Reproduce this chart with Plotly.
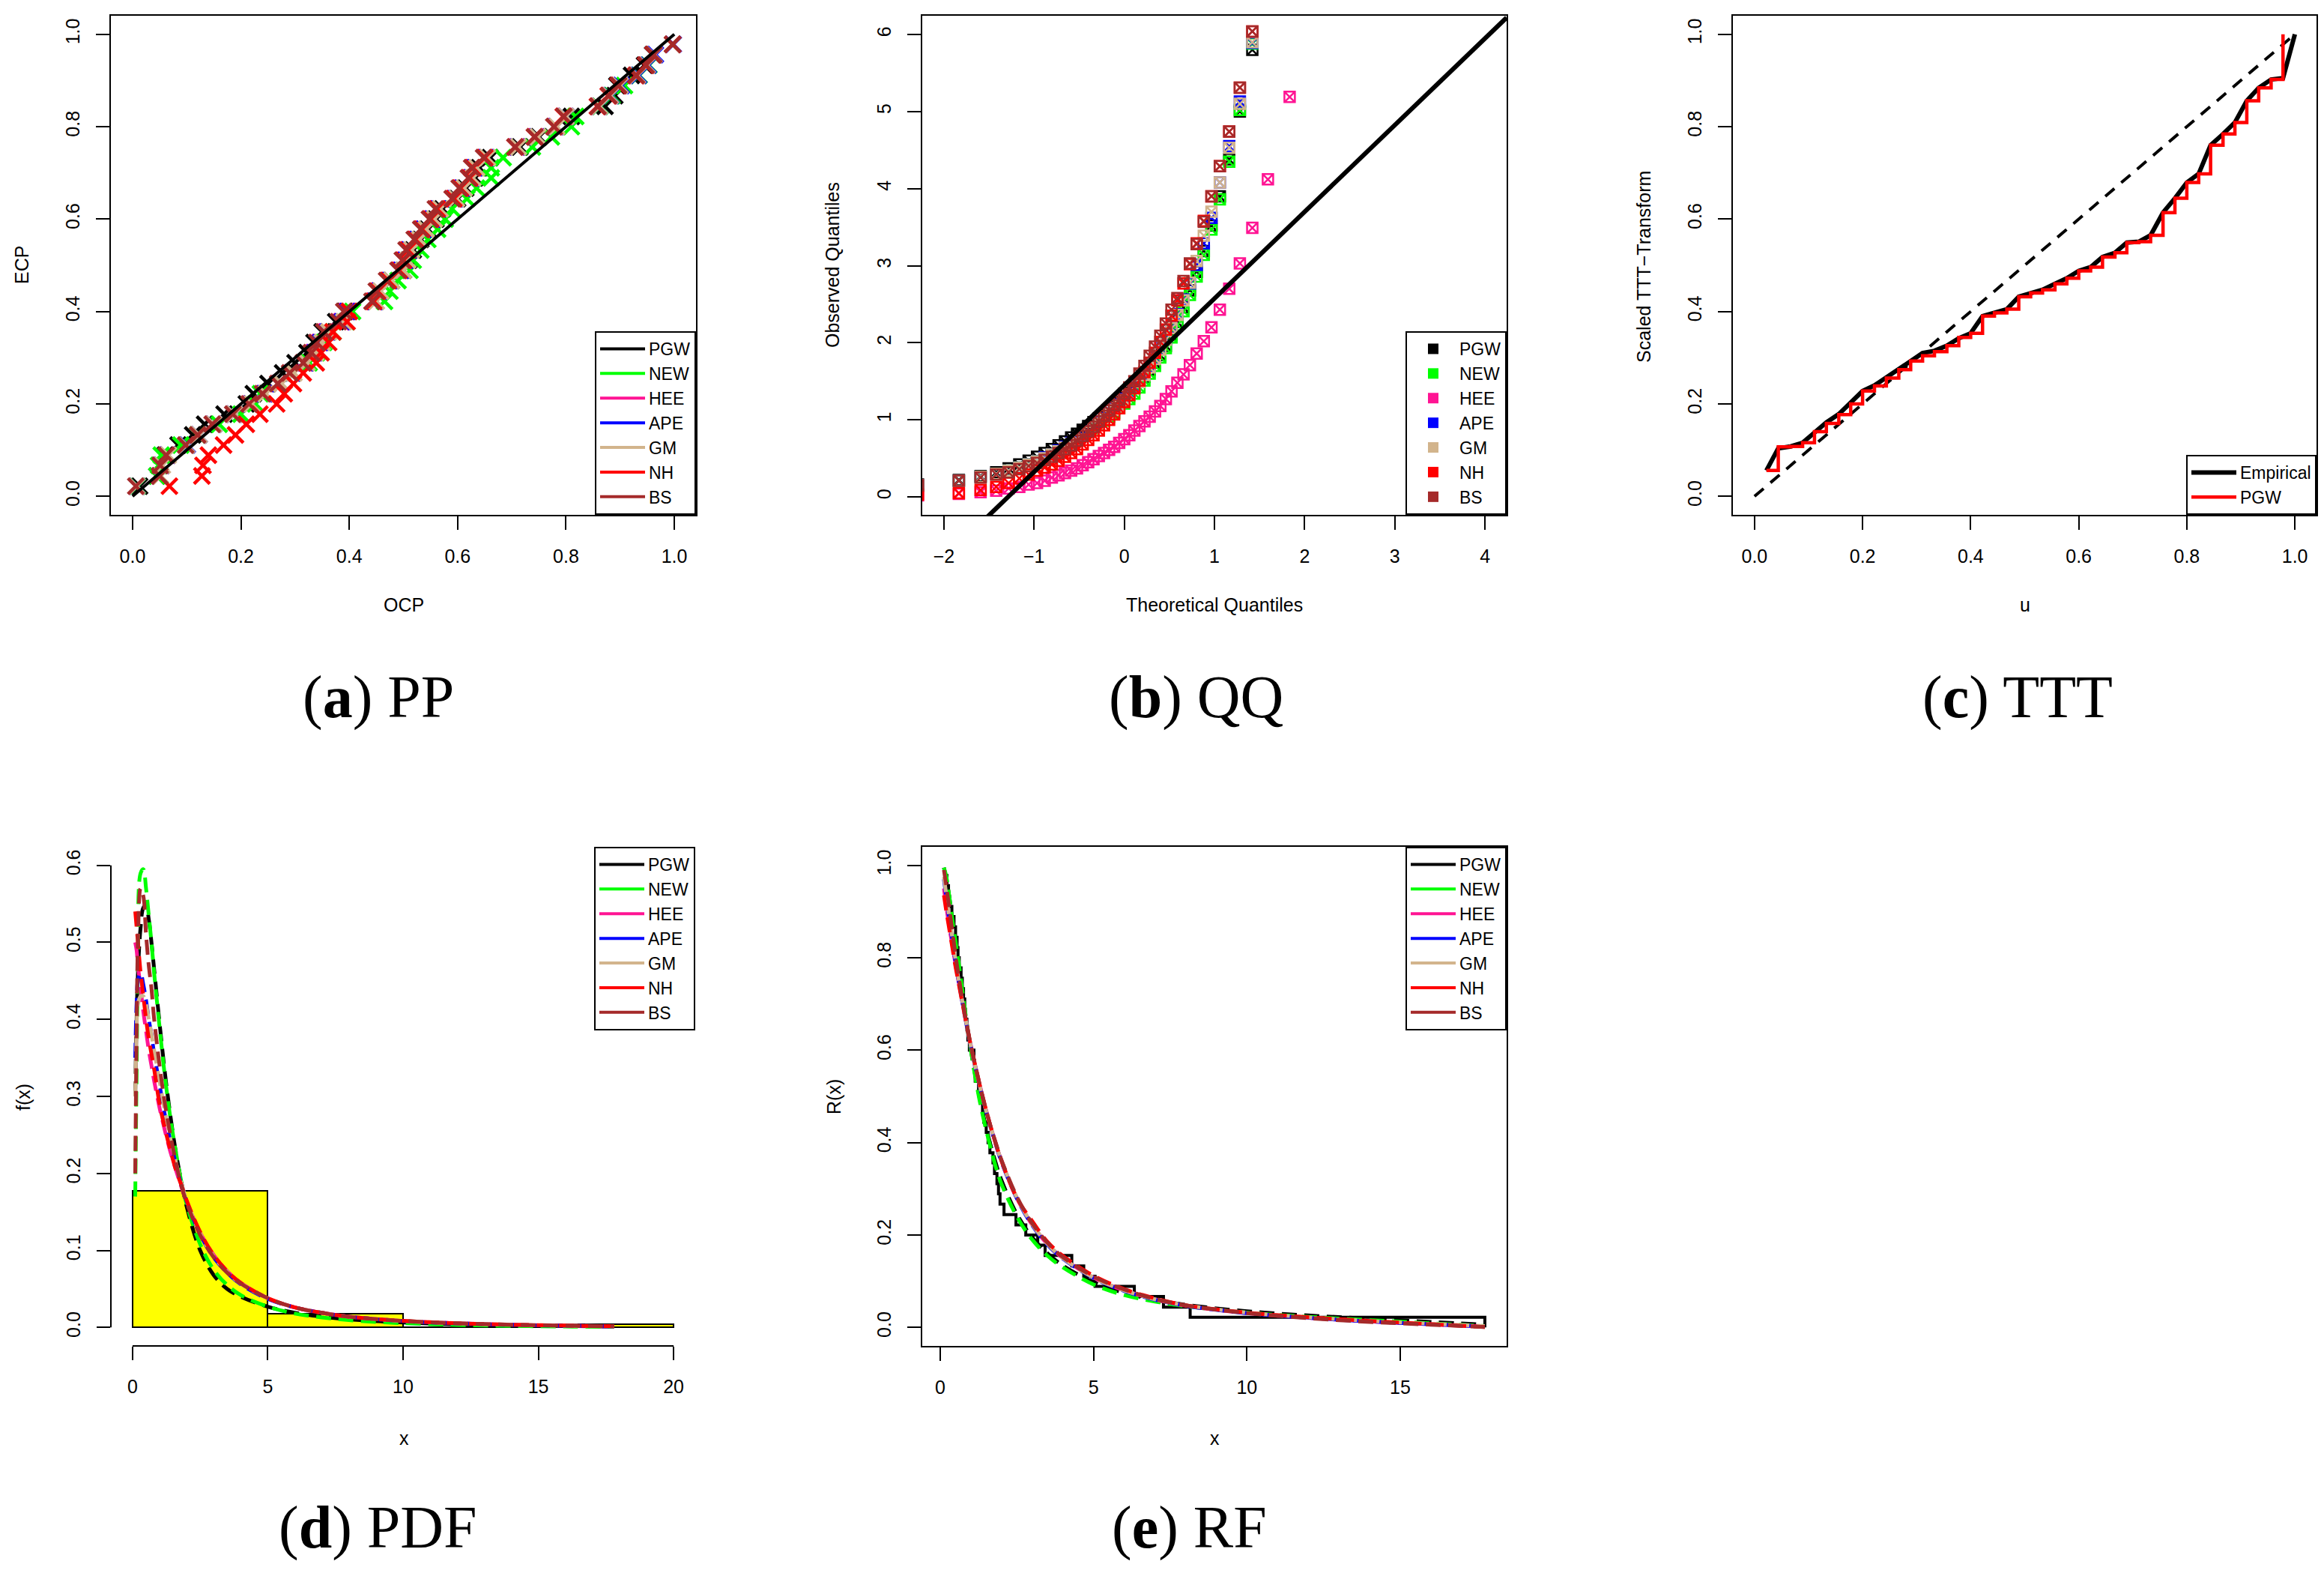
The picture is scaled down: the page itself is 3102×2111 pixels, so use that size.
# -*- coding: utf-8 -*-
"""
Goodness-of-fit panels (PP, QQ, TTT, PDF, RF) for seven fitted models
"""
import plotly.graph_objects as go

W, H = 3102, 2111

models = ["PGW", "NEW", "HEE", "APE", "GM", "NH", "BS"]
colors = ["#000000", "#00FF00", "#FF1493", "#0000FF", "#D2B48C", "#FF0000", "#A52A2A"]

# (a) PP: empirical cumulative probabilities and each model's fitted CDF
pp_ecp = [0.022, 0.044, 0.067, 0.089, 0.111, 0.133, 0.156, 0.178, 0.2, 0.222, 0.244, 0.267, 0.289, 0.311,
          0.333, 0.356, 0.378, 0.4, 0.422, 0.444, 0.467, 0.489, 0.511, 0.533, 0.556, 0.578, 0.6, 0.622,
          0.644, 0.667, 0.689, 0.711, 0.733, 0.756, 0.778, 0.8, 0.822, 0.844, 0.867, 0.889, 0.911, 0.933,
          0.956, 0.978]
pp_pgw = [0.013, 0.045, 0.05, 0.06, 0.084, 0.111, 0.133, 0.169, 0.21, 0.223, 0.25, 0.277, 0.3, 0.322,
          0.335, 0.35, 0.375, 0.392, 0.448, 0.456, 0.478, 0.5, 0.51, 0.518, 0.532, 0.545, 0.56, 0.572,
          0.6, 0.615, 0.632, 0.64, 0.66, 0.715, 0.75, 0.778, 0.81, 0.872, 0.89, 0.894, 0.921, 0.945,
          0.96, 0.997]
pp_new = [0.009, 0.045, 0.048, 0.053, 0.089, 0.12, 0.16, 0.2, 0.227, 0.236, 0.272, 0.295, 0.326, 0.34,
          0.353, 0.37, 0.395, 0.406, 0.465, 0.475, 0.49, 0.512, 0.518, 0.532, 0.545, 0.563, 0.577, 0.59,
          0.617, 0.635, 0.662, 0.662, 0.684, 0.738, 0.773, 0.81, 0.818, 0.863, 0.885, 0.908, 0.935, 0.953,
          0.962, 0.997]
pp_hee = [0.007, 0.05, 0.053, 0.064, 0.1, 0.122, 0.149, 0.187, 0.218, 0.243, 0.271, 0.294, 0.318, 0.334,
          0.345, 0.357, 0.385, 0.395, 0.446, 0.454, 0.473, 0.494, 0.502, 0.509, 0.524, 0.536, 0.552, 0.563,
          0.594, 0.607, 0.624, 0.63, 0.651, 0.709, 0.745, 0.78, 0.798, 0.86, 0.88, 0.898, 0.931, 0.949,
          0.962, 0.997]
pp_ape = [0.008, 0.051, 0.054, 0.065, 0.101, 0.123, 0.15, 0.188, 0.219, 0.244, 0.272, 0.296, 0.32, 0.336,
          0.347, 0.36, 0.387, 0.397, 0.448, 0.456, 0.475, 0.496, 0.504, 0.511, 0.526, 0.538, 0.554, 0.565,
          0.596, 0.609, 0.626, 0.632, 0.653, 0.711, 0.747, 0.782, 0.8, 0.862, 0.883, 0.902, 0.934, 0.952,
          0.965, 0.998]
pp_gm = [0.008, 0.052, 0.055, 0.066, 0.1, 0.123, 0.15, 0.188, 0.22, 0.246, 0.275, 0.298, 0.322, 0.338,
         0.35, 0.362, 0.39, 0.4, 0.45, 0.458, 0.478, 0.5, 0.508, 0.515, 0.53, 0.542, 0.557, 0.568,
         0.598, 0.612, 0.628, 0.635, 0.655, 0.712, 0.748, 0.783, 0.8, 0.862, 0.882, 0.9, 0.932, 0.95,
         0.963, 0.997]
pp_nh = [0.068, 0.128, 0.13, 0.14, 0.168, 0.19, 0.21, 0.235, 0.266, 0.28, 0.297, 0.315, 0.339, 0.348,
         0.362, 0.37, 0.396, 0.4, 0.445, 0.452, 0.472, 0.492, 0.5, 0.508, 0.522, 0.534, 0.55, 0.562,
         0.593, 0.605, 0.622, 0.628, 0.65, 0.706, 0.742, 0.778, 0.795, 0.858, 0.878, 0.896, 0.929, 0.947,
         0.961, 0.997]
pp_bs = [0.006, 0.05, 0.051, 0.062, 0.098, 0.12, 0.147, 0.185, 0.215, 0.24, 0.268, 0.29, 0.315, 0.33,
         0.34, 0.353, 0.38, 0.39, 0.442, 0.45, 0.469, 0.49, 0.498, 0.505, 0.52, 0.532, 0.548, 0.559,
         0.59, 0.603, 0.62, 0.626, 0.648, 0.706, 0.742, 0.778, 0.796, 0.859, 0.879, 0.897, 0.93, 0.948,
         0.962, 0.997]
ref_line = [0, 1]

# (b) QQ: theoretical normal quantiles and observed quantiles per model
qq_theo = [-2.287, -1.834, -1.593, -1.420, -1.282, -1.164, -1.060, -0.967, -0.882, -0.803, -0.728,
           -0.657, -0.589, -0.524, -0.461, -0.400, -0.341, -0.282, -0.224, -0.168, -0.112, -0.056,
           0.0, 0.056, 0.112, 0.168, 0.224, 0.282, 0.341, 0.400, 0.461, 0.524, 0.589, 0.657, 0.728,
           0.803, 0.882, 0.967, 1.060, 1.164, 1.282, 1.420, 1.593, 1.834]
qq_pgw = [0.16, 0.22, 0.27, 0.32, 0.37, 0.42, 0.47, 0.52, 0.57, 0.62, 0.67, 0.72, 0.77, 0.82, 0.87, 0.92,
          0.97, 1.02, 1.07, 1.12, 1.18, 1.23, 1.29, 1.35, 1.42, 1.49, 1.56, 1.65, 1.74, 1.84, 1.96, 2.10,
          2.27, 2.46, 2.68, 2.92, 3.19, 3.52, 3.90, 4.38, 5.00, 5.80]
qq_new = [0.14, 0.21, 0.26, 0.30, 0.34, 0.38, 0.42, 0.46, 0.50, 0.55, 0.59, 0.64, 0.69, 0.74, 0.79, 0.84,
          0.89, 0.94, 0.99, 1.04, 1.09, 1.15, 1.21, 1.27, 1.34, 1.42, 1.51, 1.60, 1.70, 1.81, 1.93, 2.07,
          2.23, 2.41, 2.62, 2.86, 3.14, 3.47, 3.86, 4.35, 5.02, 5.88]
qq_hee = [0.02, 0.04, 0.06, 0.08, 0.11, 0.13, 0.16, 0.18, 0.21, 0.25, 0.28, 0.31, 0.34, 0.37, 0.41, 0.45,
          0.49, 0.53, 0.57, 0.61, 0.65, 0.70, 0.75, 0.80, 0.86, 0.92, 0.98, 1.04, 1.11, 1.18, 1.27, 1.37,
          1.48, 1.59, 1.71, 1.86, 2.02, 2.20, 2.43, 2.70, 3.03, 3.49, 4.12, 5.19]
qq_ape = [0.15, 0.21, 0.26, 0.30, 0.34, 0.38, 0.42, 0.46, 0.51, 0.55, 0.60, 0.65, 0.70, 0.75, 0.80, 0.85,
          0.90, 0.96, 1.02, 1.08, 1.14, 1.20, 1.27, 1.34, 1.42, 1.50, 1.59, 1.69, 1.80, 1.92, 2.05, 2.20,
          2.37, 2.56, 2.77, 3.01, 3.29, 3.62, 4.08, 4.55, 5.13, 5.89]
qq_gm = [0.15, 0.21, 0.26, 0.30, 0.34, 0.38, 0.42, 0.46, 0.50, 0.55, 0.59, 0.64, 0.69, 0.74, 0.79, 0.84,
         0.90, 0.95, 1.01, 1.07, 1.13, 1.19, 1.26, 1.33, 1.41, 1.49, 1.58, 1.68, 1.79, 1.91, 2.04, 2.19,
         2.36, 2.55, 2.78, 3.06, 3.39, 3.70, 4.08, 4.53, 5.10, 5.90]
qq_nh = [0.03, 0.05, 0.09, 0.13, 0.18, 0.24, 0.29, 0.34, 0.38, 0.42, 0.47, 0.52, 0.57, 0.62, 0.68, 0.74,
         0.80, 0.86, 0.93, 1.00, 1.07, 1.15, 1.23, 1.32, 1.41, 1.51, 1.62, 1.74, 1.87, 2.01, 2.17, 2.35,
         2.55, 2.77, 3.02, 3.29, 3.58, 3.90, 4.29, 4.74, 5.31, 6.04]
qq_bs = [0.15, 0.21, 0.25, 0.29, 0.32, 0.36, 0.40, 0.44, 0.48, 0.52, 0.57, 0.62, 0.67, 0.73, 0.79, 0.85,
         0.91, 0.98, 1.05, 1.12, 1.19, 1.26, 1.34, 1.42, 1.50, 1.60, 1.70, 1.83, 1.95, 2.09, 2.25, 2.43,
         2.58, 2.80, 3.03, 3.28, 3.57, 3.90, 4.29, 4.74, 5.31, 6.04]
qq_intercept = 1.449
qq_slope = 1.125

# (c) TTT
ttt_u = [0.022, 0.044, 0.067, 0.089, 0.111, 0.133, 0.156, 0.178, 0.2, 0.222, 0.244, 0.267, 0.289, 0.311,
         0.333, 0.356, 0.378, 0.4, 0.422, 0.444, 0.467, 0.489, 0.511, 0.533, 0.556, 0.578, 0.6, 0.622,
         0.644, 0.667, 0.689, 0.711, 0.733, 0.756, 0.778, 0.8, 0.822, 0.844, 0.867, 0.889, 0.911, 0.933,
         0.956, 0.978, 1.0]
ttt_emp = [0.056, 0.104, 0.108, 0.116, 0.138, 0.16, 0.178, 0.202, 0.228, 0.24, 0.257, 0.276, 0.293, 0.31,
           0.315, 0.326, 0.342, 0.353, 0.39, 0.397, 0.405, 0.432, 0.44, 0.447, 0.46, 0.472, 0.488, 0.496,
           0.518, 0.527, 0.549, 0.551, 0.565, 0.614, 0.645, 0.679, 0.698, 0.76, 0.784, 0.809, 0.856, 0.884,
           0.902, 0.905, 1.0]
ttt_pgw = [0.056, 0.107, 0.108, 0.116, 0.14, 0.158, 0.177, 0.2, 0.228, 0.239, 0.256, 0.274, 0.293, 0.304,
           0.313, 0.326, 0.344, 0.353, 0.39, 0.397, 0.405, 0.432, 0.44, 0.447, 0.46, 0.472, 0.488, 0.496,
           0.518, 0.527, 0.549, 0.551, 0.565, 0.614, 0.645, 0.679, 0.698, 0.76, 0.784, 0.809, 0.856, 0.884,
           0.902, 1.0]

# (d) PDF: histogram and fitted densities
hist_edges = [0, 5, 10, 15, 20]
hist_density = [0.1778, 0.0178, 0.0, 0.0044]
pdf_x = [0.1, 0.15, 0.2, 0.3, 0.4, 0.5, 0.6, 0.7, 0.8, 1.0, 1.2, 1.4, 1.6, 1.8, 2.0, 2.5, 3.0, 3.5, 4.0,
         5.0, 6.0, 7.0, 8.0, 10.0, 12.0, 14.0, 16.0, 17.8]
pdf_pgw = [0.3, 0.4, 0.46, 0.52, 0.545, 0.548, 0.53, 0.5, 0.465, 0.395, 0.33, 0.275, 0.228, 0.19, 0.157,
           0.1, 0.068, 0.05, 0.04, 0.027, 0.019, 0.014, 0.0105, 0.0065, 0.0042, 0.0027, 0.0018, 0.0012]
pdf_new = [0.17, 0.33, 0.47, 0.59, 0.595, 0.57, 0.535, 0.5, 0.46, 0.39, 0.325, 0.272, 0.228, 0.19, 0.16,
           0.108, 0.075, 0.055, 0.042, 0.027, 0.018, 0.013, 0.0095, 0.0055, 0.0033, 0.002, 0.0012, 0.0008]
pdf_hee = [0.5, 0.49, 0.47, 0.44, 0.41, 0.385, 0.36, 0.34, 0.32, 0.285, 0.255, 0.228, 0.205, 0.183, 0.163,
           0.123, 0.094, 0.073, 0.058, 0.038, 0.026, 0.019, 0.014, 0.0084, 0.0054, 0.0035, 0.0023, 0.0015]
pdf_ape = [0.35, 0.42, 0.45, 0.46, 0.445, 0.425, 0.4, 0.38, 0.355, 0.315, 0.275, 0.242, 0.212, 0.186, 0.164,
           0.121, 0.091, 0.071, 0.056, 0.037, 0.026, 0.019, 0.014, 0.0083, 0.0053, 0.0034, 0.0022, 0.0014]
pdf_gm = [0.3, 0.38, 0.42, 0.43, 0.43, 0.42, 0.4, 0.38, 0.36, 0.32, 0.28, 0.245, 0.215, 0.188, 0.165,
          0.122, 0.092, 0.072, 0.057, 0.038, 0.026, 0.019, 0.014, 0.0085, 0.0055, 0.0036, 0.0024, 0.0016]
pdf_nh = [0.54, 0.52, 0.5, 0.46, 0.43, 0.4, 0.375, 0.355, 0.335, 0.29, 0.258, 0.23, 0.205, 0.185, 0.165,
          0.124, 0.094, 0.073, 0.058, 0.038, 0.026, 0.019, 0.014, 0.0085, 0.0055, 0.0036, 0.0024, 0.0016]
pdf_bs = [0.2, 0.38, 0.5, 0.57, 0.56, 0.51, 0.47, 0.44, 0.4, 0.34, 0.29, 0.25, 0.215, 0.185, 0.162,
          0.12, 0.091, 0.071, 0.057, 0.038, 0.026, 0.019, 0.014, 0.0085, 0.0054, 0.0035, 0.0023, 0.0015]

# (e) RF: empirical survival and fitted reliability functions
rf_data = [0.19, 0.22, 0.27, 0.3, 0.38, 0.45, 0.5, 0.55, 0.58, 0.62, 0.68, 0.72, 0.76, 0.8, 0.82, 0.87,
           0.9, 0.95, 1.1, 1.12, 1.14, 1.25, 1.3, 1.38, 1.42, 1.5, 1.56, 1.62, 1.72, 1.77, 1.85, 1.9, 1.95,
           2.08, 2.47, 2.79, 3.18, 3.42, 4.29, 4.68, 5.05, 6.33, 7.28, 8.15, 17.76]
rf_surv = [0.978, 0.956, 0.933, 0.911, 0.889, 0.867, 0.844, 0.822, 0.8, 0.778, 0.756, 0.733, 0.711, 0.689,
           0.667, 0.644, 0.622, 0.6, 0.578, 0.556, 0.533, 0.511, 0.489, 0.467, 0.444, 0.422, 0.4, 0.378,
           0.356, 0.333, 0.311, 0.289, 0.267, 0.244, 0.222, 0.2, 0.178, 0.156, 0.133, 0.111, 0.089, 0.067,
           0.044, 0.022, 0.0]
rf_x = [0.12, 0.2, 0.3, 0.4, 0.5, 0.6, 0.8, 1.0, 1.2, 1.4, 1.6, 1.8, 2.0, 2.5, 3.0, 3.5, 4.0, 5.0, 6.0,
        7.0, 8.0, 10.0, 12.0, 14.0, 16.0, 17.76]
rf_pgw = [0.995, 0.97, 0.93, 0.875, 0.825, 0.78, 0.685, 0.6, 0.525, 0.46, 0.405, 0.358, 0.318, 0.245,
          0.195, 0.16, 0.134, 0.098, 0.075, 0.06, 0.049, 0.035, 0.026, 0.019, 0.012, 0.006]
rf_new = [0.995, 0.975, 0.93, 0.88, 0.835, 0.79, 0.69, 0.6, 0.52, 0.455, 0.4, 0.35, 0.31, 0.24, 0.19,
          0.155, 0.13, 0.093, 0.07, 0.056, 0.046, 0.032, 0.023, 0.016, 0.009, 0.003]
rf_hee = [0.95, 0.91, 0.865, 0.825, 0.785, 0.748, 0.677, 0.61, 0.55, 0.495, 0.445, 0.4, 0.36, 0.28, 0.222,
          0.18, 0.15, 0.108, 0.08, 0.061, 0.047, 0.031, 0.021, 0.013, 0.007, 0.002]
rf_ape = [0.97, 0.93, 0.88, 0.835, 0.79, 0.75, 0.675, 0.607, 0.547, 0.492, 0.443, 0.398, 0.358, 0.279,
          0.221, 0.179, 0.149, 0.107, 0.079, 0.06, 0.047, 0.031, 0.021, 0.013, 0.007, 0.002]
rf_gm = [0.975, 0.935, 0.885, 0.84, 0.795, 0.752, 0.677, 0.608, 0.548, 0.493, 0.444, 0.4, 0.36, 0.281,
         0.223, 0.181, 0.15, 0.108, 0.08, 0.061, 0.048, 0.032, 0.022, 0.014, 0.008, 0.003]
rf_nh = [0.935, 0.9, 0.86, 0.82, 0.78, 0.745, 0.675, 0.61, 0.55, 0.495, 0.445, 0.4, 0.36, 0.28, 0.23,
         0.185, 0.155, 0.112, 0.083, 0.063, 0.048, 0.032, 0.022, 0.014, 0.007, 0.001]
rf_bs = [0.99, 0.955, 0.905, 0.855, 0.805, 0.76, 0.68, 0.61, 0.55, 0.495, 0.445, 0.402, 0.362, 0.283,
         0.225, 0.183, 0.152, 0.11, 0.082, 0.062, 0.048, 0.031, 0.02, 0.012, 0.006, 0.001]

pp_ocp = [pp_pgw, pp_new, pp_hee, pp_ape, pp_gm, pp_nh, pp_bs]
qq_obs = [qq_pgw, qq_new, qq_hee, qq_ape, qq_gm, qq_nh, qq_bs]
pdf_fit = [pdf_pgw, pdf_new, pdf_hee, pdf_ape, pdf_gm, pdf_nh, pdf_bs]
rf_fit = [rf_pgw, rf_new, rf_hee, rf_ape, rf_gm, rf_nh, rf_bs]

SANS = "Liberation Sans"
SERIF = "Liberation Serif"


def px(x):
    return x / W


def py(y):
    return 1 - y / H


# plot boxes in pixels: left, right, top, bottom
boxes = {
    "pp": (148, 929, 21, 687),
    "qq": (1231, 2011, 21, 687),
    "ttt": (2313, 3092, 21, 687),
    "pdf": (148, 928, 1130, 1796),
    "rf": (1231, 2011, 1130, 1796),
}


def axis(box, rng, tickvals, anchor, fmt, vertical=False, boxed=True):
    l, r, t, b = box
    dom = [py(b), py(t)] if vertical else [px(l), px(r)]
    ax = dict(domain=dom, range=rng, anchor=anchor, tickvals=tickvals, tickformat=fmt,
              ticks="outside", ticklen=18, tickwidth=2, tickcolor="black",
              showgrid=False, zeroline=False, showline=boxed, mirror=boxed,
              linecolor="black", linewidth=2,
              tickfont=dict(family=SANS, size=25, color="black"))
    if vertical:
        ax["tickangle"] = -90
        ax["ticklabelstandoff"] = 12
    else:
        ax["ticklabelstandoff"] = 14
    return ax


fig = go.Figure()

# (a) PP
for name, col, ocp in zip(models, colors, pp_ocp):
    fig.add_trace(go.Scatter(x=ocp, y=pp_ecp, mode="markers", showlegend=False,
                             marker=dict(symbol="x-thin", size=21, color=col,
                                         line=dict(color=col, width=4.5)),
                             xaxis="x", yaxis="y"))
fig.add_trace(go.Scatter(x=ref_line, y=ref_line, mode="lines", showlegend=False,
                         line=dict(color="black", width=4), xaxis="x", yaxis="y"))
for name, col in zip(models, colors):
    fig.add_trace(go.Scatter(x=[None], y=[None], mode="lines", name=name, legend="legend",
                             line=dict(color=col, width=4), xaxis="x", yaxis="y"))

# (b) QQ
for name, col, obs in zip(models, colors, qq_obs):
    fig.add_trace(go.Scatter(x=qq_theo[:len(obs)], y=obs, mode="markers", showlegend=False,
                             marker=dict(symbol="square-x-open", size=14, color=col,
                                         line=dict(color=col, width=2.5)),
                             xaxis="x2", yaxis="y2"))
qq_line_x = [-2.24, 4.24]
fig.add_trace(go.Scatter(x=qq_line_x, y=[qq_intercept + qq_slope * v for v in qq_line_x],
                         mode="lines", showlegend=False, line=dict(color="black", width=6),
                         xaxis="x2", yaxis="y2"))
for name, col in zip(models, colors):
    fig.add_trace(go.Scatter(x=[None], y=[None], mode="markers", name=name, legend="legend2",
                             marker=dict(symbol="square", size=14, color=col),
                             xaxis="x2", yaxis="y2"))

# (c) TTT
fig.add_trace(go.Scatter(x=ref_line, y=ref_line, mode="lines", showlegend=False,
                         line=dict(color="black", width=4, dash="16px,12px"),
                         xaxis="x3", yaxis="y3"))
fig.add_trace(go.Scatter(x=ttt_u, y=ttt_emp, mode="lines", name="Empirical", legend="legend3",
                         line=dict(color="black", width=6), xaxis="x3", yaxis="y3"))
fig.add_trace(go.Scatter(x=ttt_u[:len(ttt_pgw)], y=ttt_pgw, mode="lines", name="PGW",
                         legend="legend3", line=dict(color="#FF0000", width=4.5, shape="hv"),
                         xaxis="x3", yaxis="y3"))

# (d) PDF
mids = [(a + b) / 2 for a, b in zip(hist_edges[:-1], hist_edges[1:])]
widths = [b - a for a, b in zip(hist_edges[:-1], hist_edges[1:])]
fig.add_trace(go.Bar(x=mids, y=hist_density, width=widths, showlegend=False,
                     marker=dict(color="#FFFF00", line=dict(color="black", width=2)),
                     xaxis="x4", yaxis="y4"))
for name, col, fit in zip(models, colors, pdf_fit):
    fig.add_trace(go.Scatter(x=pdf_x, y=fit, mode="lines", showlegend=False,
                             line=dict(color=col, width=5, dash="20px,10px", shape="spline"),
                             xaxis="x4", yaxis="y4"))
for name, col in zip(models, colors):
    fig.add_trace(go.Scatter(x=[None], y=[None], mode="lines", name=name, legend="legend4",
                             line=dict(color=col, width=4), xaxis="x4", yaxis="y4"))

# (e) RF
fig.add_trace(go.Scatter(x=rf_data, y=rf_surv, mode="lines", showlegend=False,
                         line=dict(color="black", width=4, shape="hv"),
                         xaxis="x5", yaxis="y5"))
for name, col, fit in zip(models, colors, rf_fit):
    fig.add_trace(go.Scatter(x=rf_x, y=fit, mode="lines", showlegend=False,
                             line=dict(color=col, width=5, dash="20px,10px", shape="spline"),
                             xaxis="x5", yaxis="y5"))
for name, col in zip(models, colors):
    fig.add_trace(go.Scatter(x=[None], y=[None], mode="lines", name=name, legend="legend5",
                             line=dict(color=col, width=4), xaxis="x5", yaxis="y5"))

prob_ticks = [0, 0.2, 0.4, 0.6, 0.8, 1.0]
qq_xticks = [-2, -1, 0, 1, 2, 3, 4]
qq_yticks = [0, 1, 2, 3, 4, 5, 6]
pdf_xticks = [0, 5, 10, 15, 20]
pdf_yticks = [0, 0.1, 0.2, 0.3, 0.4, 0.5, 0.6]
rf_xticks = [0, 5, 10, 15]

legend_common = dict(bordercolor="black", borderwidth=2, bgcolor="white",
                     font=dict(family=SANS, size=23, color="black"),
                     tracegroupgap=0, itemwidth=60)

fig.update_layout(
    width=W, height=H, margin=dict(l=0, r=0, t=0, b=0),
    paper_bgcolor="white", plot_bgcolor="white", showlegend=True,
    xaxis=axis(boxes["pp"], [-0.04, 1.04], prob_ticks, "y", ".1f"),
    yaxis=axis(boxes["pp"], [-0.04, 1.04], prob_ticks, "x", ".1f", vertical=True),
    xaxis2=axis(boxes["qq"], [-2.24, 4.24], qq_xticks, "y2", "d"),
    yaxis2=axis(boxes["qq"], [-0.233, 6.243], qq_yticks, "x2", "d", vertical=True),
    xaxis3=axis(boxes["ttt"], [-0.04, 1.04], prob_ticks, "y3", ".1f"),
    yaxis3=axis(boxes["ttt"], [-0.04, 1.04], prob_ticks, "x3", ".1f", vertical=True),
    xaxis4=axis(boxes["pdf"], [-0.8, 20.8], pdf_xticks, "y4", "d", boxed=False),
    yaxis4=axis(boxes["pdf"], [-0.024, 0.624], pdf_yticks, "x4", ".1f", vertical=True, boxed=False),
    xaxis5=axis(boxes["rf"], [-0.586, 18.47], rf_xticks, "y5", "d"),
    yaxis5=axis(boxes["rf"], [-0.04, 1.04], prob_ticks, "x5", ".1f", vertical=True),
    legend=dict(x=px(929), y=py(687), xanchor="right", yanchor="bottom", **legend_common),
    legend2=dict(x=px(2011), y=py(687), xanchor="right", yanchor="bottom", **legend_common),
    legend3=dict(x=px(3092), y=py(687), xanchor="right", yanchor="bottom", **legend_common),
    legend4=dict(x=px(928), y=py(1130), xanchor="right", yanchor="top", **legend_common),
    legend5=dict(x=px(2011), y=py(1130), xanchor="right", yanchor="top", **legend_common),
    bargap=0,
)

# free-standing axis lines of the histogram panel
fig.add_shape(type="line", xref="x4", yref="y4 domain", x0=pdf_xticks[0], x1=pdf_xticks[-1],
              y0=0, y1=0, line=dict(color="black", width=2))
fig.add_shape(type="line", xref="x4 domain", yref="y4", x0=0, x1=0,
              y0=pdf_yticks[0], y1=pdf_yticks[-1], line=dict(color="black", width=2))

labels = [
    ("OCP", 539, 807, 0), ("ECP", 29, 353, -90),
    ("Theoretical Quantiles", 1621, 807, 0), ("Observed Quantiles", 1111, 354, -90),
    ("u", 2703, 807, 0), ("Scaled TTT\u2212Transform", 2194, 356, -90),
    ("x", 539, 1919, 0), ("f(x)", 31, 1464, -90),
    ("x", 1621, 1919, 0), ("R(x)", 1113, 1464, -90),
]
for text, x, y, ang in labels:
    fig.add_annotation(text=text, x=px(x), y=py(y), xref="paper", yref="paper", showarrow=False,
                       textangle=ang, xanchor="center", yanchor="middle",
                       font=dict(family=SANS, size=25, color="black"))

captions = [("a", "PP", 505, 930), ("b", "QQ", 1597, 930), ("c", "TTT", 2693, 930),
            ("d", "PDF", 505, 2038), ("e", "RF", 1587, 2038)]
for letter, word, x, y in captions:
    fig.add_annotation(text="(<b>%s</b>) %s" % (letter, word), x=px(x), y=py(y),
                       xref="paper", yref="paper", showarrow=False,
                       xanchor="center", yanchor="middle",
                       font=dict(family=SERIF, size=80, color="black"))

fig.write_html("out.html", config={"displayModeBar": False},
               post_script="document.body.style.margin='0';")
